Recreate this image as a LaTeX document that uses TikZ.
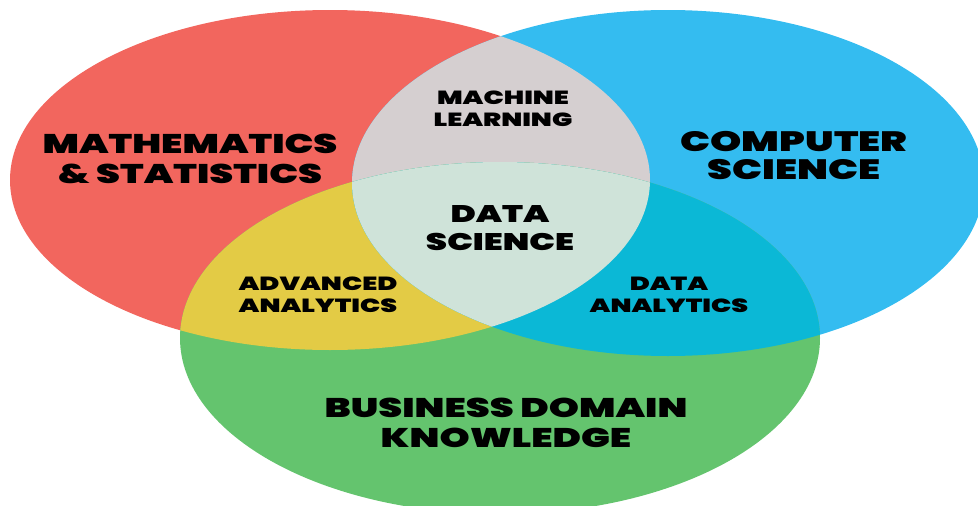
\documentclass[tikz,border=0pt]{standalone}
\usepackage{fontspec}
\setmainfont{Poppins}
\newfontfamily\lblfont[FakeStretch=1.42]{Poppins Black}
\definecolor{mathred}{HTML}{F2665E}
\definecolor{csblue}{HTML}{34BCF0}
\definecolor{bizgreen}{HTML}{64C46E}
\definecolor{mlgray}{HTML}{D5CFD0}
\definecolor{aayellow}{HTML}{E3CB45}
\definecolor{dateal}{HTML}{0BB8D6}
\definecolor{dsmint}{HTML}{CFE3D9}

\def\redset{(330,180) ellipse [x radius=320, y radius=170]}
\def\blueset{(668,183) ellipse [x radius=316, y radius=173]}
\def\greenset{(500,338) ellipse [x radius=320, y radius=176]}

\tikzset{
  lbl/.style={align=center, inner sep=0pt, text=black},
  big/.style={lbl, font=\lblfont\fontsize{27}{30}\selectfont},
  mid/.style={lbl, font=\lblfont\fontsize{24}{28}\selectfont},
  small/.style={lbl, font=\lblfont\fontsize{19}{22}\selectfont}
}

\begin{document}
\begin{tikzpicture}[x=1pt,y=-1pt]
    \useasboundingbox (0,0) rectangle (978,506);
    \clip (0,0) rectangle (978,506);

    \fill[mathred] \redset;
    \fill[csblue] \blueset;
    \fill[bizgreen] \greenset;

    \begin{scope}
      \clip \redset;
      \fill[mlgray] \blueset;
      \fill[aayellow] \greenset;
    \end{scope}
    \begin{scope}
      \clip \blueset;
      \fill[dateal] \greenset;
      \clip \redset;
      \fill[dsmint] \greenset;
    \end{scope}

    \node[big] (math) at (190,159) {MATHEMATICS\\\& STATISTICS};
    \node[big, font=\lblfont\fontsize{28}{28}\selectfont] (cs) at (794,156) {COMPUTER\\SCIENCE};
    \node[small] (ml) at (503,109) {MACHINE\\LEARNING};
    \node[mid] (ds) at (500,228) {DATA\\SCIENCE};
    \node[small] (aa) at (318,295) {ADVANCED\\ANALYTICS};
    \node[small] (da) at (669,295) {DATA\\ANALYTICS};
    \node[big] (biz) at (506,423) {BUSINESS DOMAIN\\KNOWLEDGE};
\end{tikzpicture}
\end{document}
